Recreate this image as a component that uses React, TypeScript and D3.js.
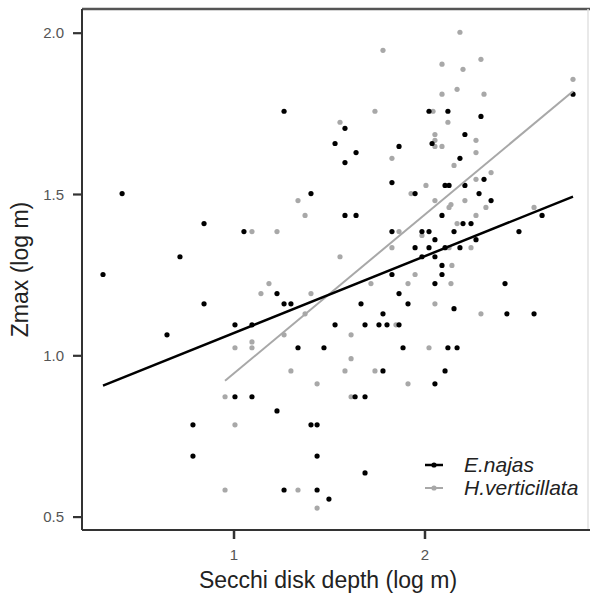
import React from "react";
import * as d3 from "d3";

// Black series: E.najas  [Secchi depth (log m), Zmax (log m)]
const najasX = [1.262,1.529,0.414,1.403,0.843,1.052,0.717,0.314,2.775,2.021,2.120,2.293,1.581,2.209,1.864,2.037,1.639,1.581,2.183,2.309,1.827,2.105,2.126,2.209,1.948,2.283,2.346,1.581,1.639,2.089,2.613,2.199,2.241,1.827,1.984,2.021,2.152,2.492,2.052,2.267,1.948,2.021,2.105,2.183,1.984,2.052,2.089,1.827,2.089,1.225,0.843,1.262,1.298,1.005,1.094,1.529,0.649,1.335,1.471,1.005,1.094,1.225,0.785,1.403,1.435,0.785,1.435,1.262,1.435,1.497,2.052,2.419,1.864,1.665,1.911,2.152,1.780,2.429,2.571,1.686,1.759,1.801,1.864,1.885,2.120,2.168,1.780,2.105,2.052,1.634,1.686,1.686];
const najasY = [1.758,1.658,1.503,1.503,1.410,1.385,1.307,1.252,1.811,1.758,1.758,1.742,1.705,1.686,1.649,1.658,1.630,1.599,1.612,1.547,1.537,1.528,1.528,1.528,1.503,1.503,1.481,1.435,1.435,1.435,1.435,1.410,1.410,1.385,1.385,1.385,1.385,1.385,1.360,1.360,1.335,1.335,1.335,1.335,1.307,1.307,1.280,1.252,1.252,1.193,1.161,1.161,1.161,1.096,1.096,1.096,1.065,1.025,1.025,0.873,0.873,0.829,0.786,0.786,0.786,0.689,0.689,0.584,0.584,0.556,1.224,1.224,1.193,1.161,1.161,1.146,1.130,1.130,1.130,1.096,1.096,1.096,1.096,1.025,1.025,1.025,0.953,0.953,0.913,0.873,0.873,0.637];

// Grey series: H.verticillata
const hydX = [1.335,1.372,1.094,1.225,1.555,1.555,2.183,1.780,2.089,2.199,2.293,2.775,2.168,2.089,2.309,1.738,2.042,2.120,2.052,2.052,2.052,2.089,2.267,2.267,1.827,2.152,2.346,2.267,2.005,1.927,2.052,2.209,2.136,2.126,2.319,2.571,2.267,2.168,1.864,1.984,1.827,2.126,2.241,2.141,1.948,1.183,1.141,1.403,1.372,1.262,1.094,1.005,1.094,1.298,1.435,0.953,1.005,0.953,1.335,1.435,1.717,1.911,2.136,2.052,2.293,1.848,1.613,2.021,1.613,1.581,1.738,1.911,1.613];
const hydY = [1.481,1.435,1.385,1.385,1.307,1.724,2.003,1.947,1.904,1.888,1.919,1.857,1.826,1.811,1.811,1.758,1.758,1.724,1.686,1.668,1.649,1.649,1.668,1.630,1.612,1.590,1.568,1.547,1.528,1.503,1.481,1.481,1.469,1.460,1.460,1.460,1.435,1.410,1.385,1.373,1.335,1.335,1.335,1.280,1.252,1.224,1.193,1.193,1.130,1.065,1.043,1.025,1.025,0.953,0.913,0.873,0.786,0.584,0.584,0.528,1.224,1.224,1.224,1.161,1.130,1.096,1.065,1.025,0.991,0.953,0.953,0.913,0.873];

// Linear fits [intercept, slope]
const najasFit = [0.833, 0.238];
const hydFit = [0.453, 0.4926];

const seriesNames = ["E.najas", "H.verticillata"];
const xTicks = [1, 2];
const yTicks = [0.5, 1.0, 1.5, 2.0];
const xDomain = [0.204, 2.864];
const yDomain = [0.46, 2.075];

const W = 592, H = 596;
const M = { left: 82, right: 2, top: 9, bottom: 66 };

const BLACK = "#000000";
const GREY = "#a8a8a8";
const FONT = "'Liberation Sans', Arial, sans-serif";

export default function App() {
  const x = d3.scaleLinear().domain(xDomain).range([M.left, W - M.right]);
  const y = d3.scaleLinear().domain(yDomain).range([H - M.bottom, M.top]);

  const series = [
    { name: seriesNames[1], xs: hydX, ys: hydY, fit: hydFit, color: GREY, lw: 2 },
    { name: seriesNames[0], xs: najasX, ys: najasY, fit: najasFit, color: BLACK, lw: 2.5 },
  ];

  const line = d3.line<[number, number]>().x((d) => x(d[0])).y((d) => y(d[1]));

  const fitLine = (s: any) => {
    const [lo, hi] = d3.extent(s.xs as number[]) as [number, number];
    return line([
      [lo, s.fit[0] + s.fit[1] * lo],
      [hi, s.fit[0] + s.fit[1] * hi],
    ]);
  };

  const x0 = M.left, x1 = W - M.right, y0 = H - M.bottom, y1 = M.top;
  const fmt = d3.format(".1f");

  const legendItems = [
    { name: seriesNames[0], color: BLACK, lw: 2.5 },
    { name: seriesNames[1], color: GREY, lw: 2 },
  ];

  return (
    <svg width={W} height={H} style={{ position: "absolute", left: 0, top: 0, background: "#fff" }} fontFamily={FONT}>
      <rect x={0} y={0} width={W} height={H} fill="#fff" />
      {/* panel border top/right */}
      <line x1={x0} x2={x1} y1={y1} y2={y1} stroke="#555" strokeWidth={2.5} />
      <line x1={x1 - 2} x2={x1 - 2} y1={y1} y2={y0} stroke="#e2e2e2" strokeWidth={1.5} />

      {/* points */}
      {series.map((s) =>
        s.xs.map((xv: number, i: number) => (
          <circle key={s.name + i} cx={x(xv)} cy={y(s.ys[i])} r={2.6} fill={s.color} />
        ))
      )}
      {/* fit lines */}
      {series.map((s) => (
        <path key={"f" + s.name} d={fitLine(s) || ""} stroke={s.color} strokeWidth={s.lw} fill="none" />
      ))}

      {/* axes */}
      <line x1={x0} x2={x0} y1={y1} y2={y0} stroke="#333" strokeWidth={2} />
      <line x1={x0} x2={x1} y1={y0} y2={y0} stroke="#333" strokeWidth={2} />
      {yTicks.map((t) => (
        <g key={"yt" + t}>
          <line x1={x0 - 9} x2={x0} y1={y(t)} y2={y(t)} stroke="#333" strokeWidth={2.2} />
          <text x={x0 - 18} y={y(t)} dy="0.35em" textAnchor="end" fontSize={15} fill="#555">
            {fmt(t)}
          </text>
        </g>
      ))}
      {xTicks.map((t) => (
        <g key={"xt" + t}>
          <line x1={x(t)} x2={x(t)} y1={y0} y2={y0 + 9} stroke="#333" strokeWidth={2.5} />
          <text x={x(t)} y={y0 + 30} textAnchor="middle" fontSize={15} fill="#555">
            {t}
          </text>
        </g>
      ))}

      {/* axis titles */}
      <text x={(x0 + x1) / 2 - 8} y={588} textAnchor="middle" fontSize={23} fill="#222">
        Secchi disk depth (log m)
      </text>
      <text
        transform={`translate(28, ${(y0 + y1) / 2}) rotate(-90)`}
        textAnchor="middle"
        fontSize={23}
        fill="#222"
      >
        Zmax (log m)
      </text>

      {/* legend */}
      {legendItems.map((it, i) => (
        <g key={"lg" + i} transform={`translate(425, ${465 + i * 23})`}>
          <line x1={0} x2={18} y1={0} y2={0} stroke={it.color} strokeWidth={it.lw} />
          <circle cx={9} cy={0} r={2.6} fill={it.color} />
          <text x={39} y={0} dy="0.35em" fontSize={21} fontStyle="italic" fill="#222">
            {it.name}
          </text>
        </g>
      ))}
    </svg>
  );
}
